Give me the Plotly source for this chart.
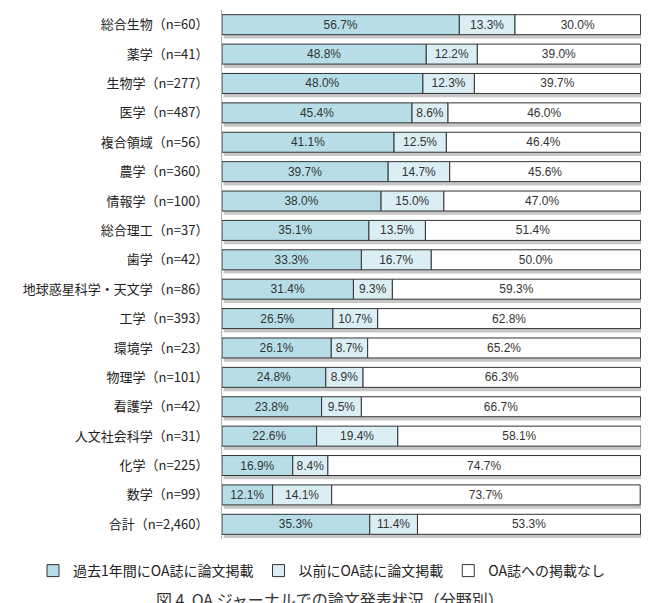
import plotly.graph_objects as go

categories = ["総合生物（n=60）", "薬学（n=41）", "生物学（n=277）", "医学（n=487）",
              "複合領域（n=56）", "農学（n=360）", "情報学（n=100）", "総合理工（n=37）",
              "歯学（n=42）", "地球惑星科学・天文学（n=86）", "工学（n=393）", "環境学（n=23）",
              "物理学（n=101）", "看護学（n=42）", "人文社会科学（n=31）", "化学（n=225）",
              "数学（n=99）", "合計（n=2,460）"]
recent = [56.7, 48.8, 48.0, 45.4, 41.1, 39.7, 38.0, 35.1, 33.3, 31.4, 26.5, 26.1, 24.8, 23.8, 22.6, 16.9, 12.1, 35.3]
before = [13.3, 12.2, 12.3, 8.6, 12.5, 14.7, 15.0, 13.5, 16.7, 9.3, 10.7, 8.7, 8.9, 9.5, 19.4, 8.4, 14.1, 11.4]
never = [30.0, 39.0, 39.7, 46.0, 46.4, 45.6, 47.0, 51.4, 50.0, 59.3, 62.8, 65.2, 66.3, 66.7, 58.1, 74.7, 73.7, 53.3]
series_names = ["過去1年間にOA誌に論文掲載", "以前にOA誌に論文掲載", "OA誌への掲載なし"]
caption = "図 4  OA ジャーナルでの論文発表状況（分野別）"

colors = ["#b7dee8", "#dbeef4", "#ffffff"]
W = 0.68

fig = go.Figure()
# drop shadow
totals = [a + b + c for a, b, c in zip(recent, before, never)]
fig.add_trace(go.Bar(y=categories, x=totals, base=[0.4] * len(categories), orientation="h",
                     width=W, offset=-W / 2 + 0.13,
                     marker=dict(color="rgba(0,0,0,0.22)", line=dict(width=0)),
                     showlegend=False, hoverinfo="skip", cliponaxis=False))

bases = [0] * len(categories)
for name, vals, col in zip(series_names, [recent, before, never], colors):
    fig.add_trace(go.Bar(
        y=categories, x=vals, base=list(bases), orientation="h", name=name,
        width=W, offset=-W / 2,
        marker=dict(color=col, line=dict(color="#333333", width=1)),
        text=[f"{v:.1f}%" for v in vals], textposition="inside", insidetextanchor="middle",
        textfont=dict(family="Liberation Sans, Arial", size=12, color="#333333"),
        cliponaxis=False,
    ))
    bases = [b + v for b, v in zip(bases, vals)]

PL, PW, PT, PH = 222, 419, 10, 529

fig.update_layout(
    width=651, height=603,
    margin=dict(l=PL, r=651 - PL - PW, t=PT, b=603 - PT - PH),
    barmode="overlay",
    plot_bgcolor="white", paper_bgcolor="white",
    uniformtext=dict(minsize=11, mode="show"),
    font=dict(family="Noto Sans CJK JP", color="#222222"),
    xaxis=dict(range=[0, max(totals)], visible=False, fixedrange=True),
    yaxis=dict(categoryorder="array", categoryarray=categories, autorange="reversed",
               showline=True, linecolor="#b0b0b0", linewidth=1, ticks="",
               tickfont=dict(family="Noto Sans CJK JP", size=13, color="#222222"),
               ticklabelstandoff=10, showgrid=False, zeroline=False),
    legend=dict(orientation="h", x=(33 - PL) / PW, xanchor="left",
                y=(PT + PH - 571) / PH, yanchor="middle",
                font=dict(family="Noto Sans CJK JP", size=14, color="#222222"),
                traceorder="normal", itemwidth=30),
    annotations=[dict(text=caption, xref="paper", yref="paper", x=(330 - PL) / PW,
                      y=(PT + PH - 599) / PH,
                      xanchor="center", yanchor="middle", showarrow=False,
                      font=dict(family="Noto Sans CJK JP", size=16, color="#333333"))],
)

fig.write_html("out.html")
